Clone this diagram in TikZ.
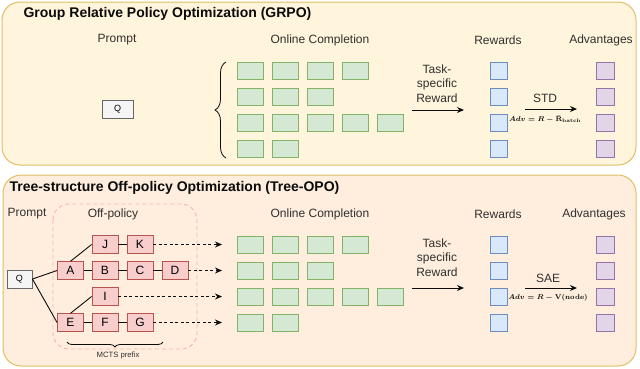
\documentclass[tikz,border=0pt]{standalone}
\usepackage[no-math]{fontspec}
\setmainfont{Liberation Sans}
\usetikzlibrary{arrows.meta,decorations.pathreplacing}
\definecolor{ink}{HTML}{0B0B0B}
\definecolor{grpofill}{HTML}{FFF4DC}
\definecolor{treefill}{HTML}{FFEEDE}
\definecolor{panelborder}{HTML}{E0BE62}
\definecolor{qfill}{HTML}{F5F5F5}
\definecolor{qborder}{HTML}{666666}
\definecolor{compfill}{HTML}{D5E8D4}
\definecolor{compborder}{HTML}{82B366}
\definecolor{rwdfill}{HTML}{DAE8FC}
\definecolor{rwdborder}{HTML}{6C8EBF}
\definecolor{advfill}{HTML}{E1D5E7}
\definecolor{advborder}{HTML}{9673A6}
\definecolor{mctsfill}{HTML}{F8CECC}
\definecolor{mctsborder}{HTML}{B85450}
\definecolor{offborder}{HTML}{F4B4B0}

\begin{document}
\begin{tikzpicture}[
  x=1pt, y=-1pt, font=\fontsize{12}{14.5}\selectfont,
  panel/.style={draw=panelborder, line width=1pt, rounded corners=18pt},
  title/.style={anchor=west, text=ink, font=\fontsize{14}{16}\selectfont\bfseries},
  head/.style={text=ink!85},
  comp/.style={draw=compborder, fill=compfill, line width=0.9pt, minimum width=26pt, minimum height=17pt, inner sep=0pt},
  rwd/.style={draw=rwdborder, fill=rwdfill, line width=0.9pt, minimum width=17pt, minimum height=17pt, inner sep=0pt},
  adv/.style={draw=advborder, fill=advfill, line width=0.9pt, minimum width=18pt, minimum height=17pt, inner sep=0pt},
  prompt/.style={draw=qborder, fill=qfill, line width=0.9pt, minimum height=18pt, inner sep=0pt, font=\fontsize{9}{10}\selectfont},
  mcts/.style={draw=mctsborder, fill=mctsfill, line width=0.9pt, minimum width=26pt, minimum height=17.5pt, inner sep=0pt},
  edge/.style={draw=ink, line width=0.9pt},
  arr/.style={-{Stealth[length=7pt,width=6pt]}, draw=ink, line width=1pt},
  dasharr/.style={arr, dash pattern=on 3pt off 2.5pt},
  brace/.style={decorate, draw=ink, line width=0.8pt},
  formula/.style={text=ink, font=\fontsize{7.5}{9}\selectfont\boldmath, inner sep=1pt}
]
\useasboundingbox (0,0) rectangle (640,368);

% GRPO panel
\draw[panel, fill=grpofill] (2,2) rectangle (636,165);
\node[title] (t1) at (20,14) {Group Relative Policy Optimization (GRPO)};
\node[head] (h1-p) at (117,40) {Prompt};
\node[head] (h1-c) at (320,40) {Online Completion};
\node[head] (h1-r) at (498,40) {Rewards};
\node[head] (h1-a) at (601,40) {Advantages};

\node[prompt, minimum width=31pt] (q1) at (117.5,109) {Q};

\coordinate (b1-lo) at (226,158);
\coordinate (b1-hi) at (226,62);
\draw[brace, decoration={brace, amplitude=11pt}] (b1-lo) -- (b1-hi);

\foreach \r/\n in {1/4, 2/3, 3/5, 4/2} {
  \foreach \c in {1,...,\n} {\node[comp] (g1-\r-\c) at ({215+35*\c},{44.5+26*\r}) {};}
  \node[rwd] (r1-\r) at (498.5,{44.5+26*\r}) {};
  \node[adv] (a1-\r) at (605,{44.5+26*\r}) {};
}

\node[head, align=center] (tr1) at (437,83.5) {Task-\\specific\\Reward};
\coordinate (tr1-s) at (412,110);
\coordinate (tr1-e) at (464,110);
\draw[arr] (tr1-s) -- (tr1-e);

\node[head] (std) at (545,98) {STD};
\coordinate (std-s) at (525,109);
\coordinate (std-e) at (577,109);
\draw[arr] (std-s) -- (std-e);
\node[formula] (f1) at (545,119.5) {$Adv = R - \bar{\mathbf{R}}_{\mathbf{batch}}$};

% Tree-OPO panel
\draw[panel, fill=treefill] (3,175) rectangle (636,366);
\node[title] (t2) at (6,188) {Tree-structure Off-policy Optimization (Tree-OPO)};
\node[head] (h2-p) at (27,214) {Prompt};
\node[head] (h2-o) at (113,214) {Off-policy};
\node[head] (h2-c) at (320,214) {Online Completion};
\node[head] (h2-r) at (498,214) {Rewards};
\node[head] (h2-a) at (594,214) {Advantages};

\draw[draw=offborder, line width=0.9pt, dash pattern=on 4pt off 3pt, rounded corners=16pt] (53,204) rectangle (197,349);

\node[prompt, minimum width=25pt] (q2) at (19.5,279) {Q};

\foreach \name/\x/\y in {J/105/244.5, K/140/244.5, A/70.5/270.5, B/105/270.5, C/140/270.5, D/175/270.5,
                         I/105/296.5, E/70.5/322.5, F/105/322.5, G/140/322.5} {
  \node[mcts] (\name) at (\x,\y) {\name};
}
\draw[edge] (q2.east) -- (A.west);
\draw[edge] (q2.east) -- (E.west);
\draw[edge] (A.north) -- (J.west);
\draw[edge] (E.north) -- (I.west);
\draw[edge] (J) -- (K);
\draw[edge] (A) -- (B) -- (C) -- (D);
\draw[edge] (E) -- (F) -- (G);

\coordinate (ocol) at (222,0);
\foreach \leaf in {K, D, I, G} {\draw[dasharr] (\leaf.east) -- (\leaf.east -| ocol);}

\coordinate (b2-r) at (163,342);
\coordinate (b2-l) at (67,342);
\draw[brace, decoration={brace, amplitude=5pt}] (b2-r) -- (b2-l);
\node[text=ink!85, font=\fontsize{7.7}{9}\selectfont] (mp) at (118,355) {MCTS prefix};

\foreach \r/\n in {1/4, 2/3, 3/5, 4/2} {
  \foreach \c in {1,...,\n} {\node[comp] (g2-\r-\c) at ({215+35*\c},{218.5+26*\r}) {};}
  \node[rwd] (r2-\r) at (498.5,{218.5+26*\r}) {};
  \node[adv] (a2-\r) at (605,{218.5+26*\r}) {};
}

\node[head, align=center] (tr2) at (437,257.5) {Task-\\specific\\Reward};
\coordinate (tr2-s) at (412,288);
\coordinate (tr2-e) at (464,288);
\draw[arr] (tr2-s) -- (tr2-e);

\node[head] (sae) at (548,278) {SAE};
\coordinate (sae-s) at (525,288);
\coordinate (sae-e) at (577,288);
\draw[arr] (sae-s) -- (sae-e);
\node[formula] (f2) at (548,298) {$Adv = R - \mathbf{V(node)}$};
\end{tikzpicture}
\end{document}
